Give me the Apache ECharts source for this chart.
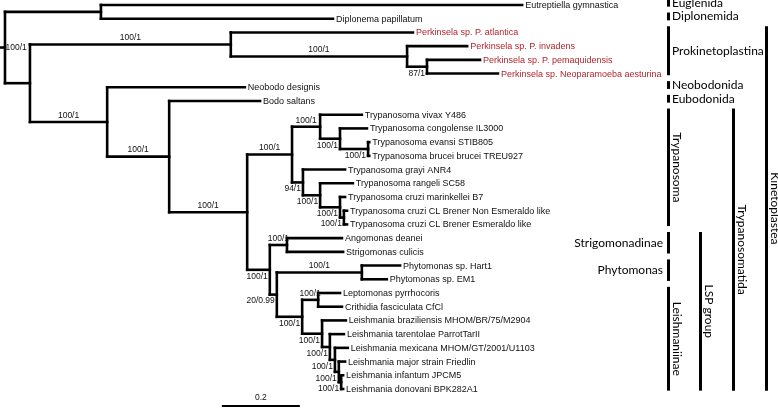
<!DOCTYPE html>
<html>
<head>
<meta charset="utf-8">
<script src="https://cdn.jsdelivr.net/npm/echarts@6/dist/echarts.min.js"></script>
<style>
  html, body { margin: 0; padding: 0; background: #fff; }
  #tree { width: 778px; height: 409px; }
</style>
</head>
<body>
<div id="tree"></div>
<script>
// tips, top to bottom
const tipNames = [
  'Eutreptiella gymnastica',
  'Diplonema papillatum',
  'Perkinsela sp. P. atlantica',
  'Perkinsela sp. P. invadens',
  'Perkinsela sp. P. pemaquidensis',
  'Perkinsela sp. Neoparamoeba aesturina',
  'Neobodo designis',
  'Bodo saltans',
  'Trypanosoma vivax Y486',
  'Trypanosoma congolense IL3000',
  'Trypanosoma evansi STIB805',
  'Trypanosoma brucei brucei TREU927',
  'Trypanosoma grayi ANR4',
  'Trypanosoma rangeli SC58',
  'Trypanosoma cruzi marinkellei B7',
  'Trypanosoma cruzi CL Brener Non Esmeraldo like',
  'Trypanosoma cruzi CL Brener Esmeraldo like',
  'Angomonas deanei',
  'Strigomonas culicis',
  'Phytomonas sp. Hart1',
  'Phytomonas sp. EM1',
  'Leptomonas pyrrhocoris',
  'Crithidia fasciculata CfCl',
  'Leishmania braziliensis MHOM/BR/75/M2904',
  'Leishmania tarentolae ParrotTarII',
  'Leishmania mexicana MHOM/GT/2001/U1103',
  'Leishmania major strain Friedlin',
  'Leishmania infantum JPCM5',
  'Leishmania donovani BPK282A1'
];
// distance of each tip from the root
const tipDepth = [1.326, 0.841, 1.046, 1.185, 1.218, 1.264, 0.615, 0.654,
  0.915, 0.928, 0.934, 0.934, 0.872, 0.892, 0.872, 0.877, 0.877,
  0.864, 0.867, 1.013, 0.979, 0.859, 0.864, 0.874, 0.869, 0.879, 0.872, 0.867, 0.867];

// internal nodes (numbers in nodeKids are tip indices)
const nodeIds = ['root', 'eug', 'kin', 'pro', 'pro2', 'pro3', 'met', 'eub', 'tri', 'tryp',
  'afr', 'afr2', 'bru', 'ame', 'ame2', 'cru', 'cru2', 'lsp', 'str', 'lph', 'phy',
  'lei', 'lc', 'le1', 'le2', 'le3', 'le4', 'le5'];
const nodeDepth = [0, 0.246, 0.064, 0.579, 1.031, 1.082, 0.262, 0.421, 0.621, 0.736,
  0.808, 0.859, 0.931, 0.764, 0.808, 0.859, 0.869, 0.679, 0.723, 0.697, 0.915,
  0.762, 0.803, 0.813, 0.833, 0.846, 0.856, 0.862];
const nodeKids = [
  ['eug', 'kin'], [0, 1], ['pro', 'met'], [2, 'pro2'], [3, 'pro3'], [4, 5], [6, 'eub'],
  [7, 'tri'], ['tryp', 'lsp'], ['afr', 'ame'], [8, 'afr2'], [9, 'bru'], [10, 11],
  [12, 'ame2'], [13, 'cru'], [14, 'cru2'], [15, 16], ['str', 'lph'], [17, 18],
  ['phy', 'lei'], [19, 20], ['lc', 'le1'], [21, 22], [23, 'le2'], [24, 'le3'],
  [25, 'le4'], [26, 'le5'], [27, 28]
];
// bootstrap / posterior support
const nodeSupport = ['', '', '100/1', '100/1', '100/1', '87/1', '100/1', '100/1', '100/1', '100/1',
  '100/1', '100/1', '100/1', '94/1', '100/1', '100/1', '100/1', '100/1', '100/1', '20/0.99', '100/1',
  '100/1', '100/1', '100/1', '100/1', '100/1', '100/1', '100/1'];

// clade brackets on the right
const cladeNames = ['Euglenida', 'Diplonemida', 'Prokinetoplastina', 'Neobodonida', 'Eubodonida',
  'Trypanosoma', 'Strigomonadinae', 'Phytomonas', 'Leishmaniinae', 'LSP group',
  'Trypanosomatida', 'Kinetoplastea'];
const cladeFirst = [0, 1, 2, 6, 7, 8, 17, 19, 21, 17, 8, 2];
const cladeLast = [0, 1, 5, 6, 7, 16, 18, 20, 28, 28, 28, 28];

const scaleBarValue = 0.2;
const scaleBarStart = 0.556;

// ---- layout ----
const stub = -0.0128;
const supportSide = {
  kin: 'parent', pro: 'above', pro2: 'above', met: 'above', eub: 'above', tri: 'above',
  tryp: 'above', afr: 'above', str: 'above', phy: 'above', lc: 'above'
};
const cladeColumn = [0, 0, 0, 0, 0, 0, 0, 0, 0, 1, 2, 3];
const columnX = [667, 699, 732, 765];
const cladeText = ['right', 'right', 'right', 'right', 'right', 'rot', 'left', 'left', 'rot', 'rot', 'rot', 'rot'];
const red = '#b3242b';
const treeFont = '"Liberation Sans", Arial, sans-serif';
const cladeFont = 'Lato, "Noto Sans", sans-serif';

// node y = middle of first and last child
const nodeY = {};
const parentOf = {};
nodeIds.forEach((id, i) => nodeKids[i].forEach(k => { parentOf[k] = id; }));
const yOf = k => {
  if (typeof k === 'number') return k;
  if (nodeY[k] == null) {
    const ks = nodeKids[nodeIds.indexOf(k)];
    nodeY[k] = (yOf(ks[0]) + yOf(ks[ks.length - 1])) / 2;
  }
  return nodeY[k];
};
const depthOf = k => typeof k === 'number' ? tipDepth[k] : nodeDepth[nodeIds.indexOf(k)];

// branch segments [x1, y1, x2, y2]
const segments = [[stub, yOf('root'), 0, yOf('root')]];
nodeIds.forEach((id, i) => {
  const ks = nodeKids[i];
  const d = nodeDepth[i];
  segments.push([d, yOf(ks[0]), d, yOf(ks[ks.length - 1])]);
  ks.forEach(k => segments.push([d, yOf(k), depthOf(k), yOf(k)]));
});

const supportData = [];
nodeIds.forEach((id, i) => {
  if (nodeSupport[i]) supportData.push([nodeDepth[i], yOf(id), depthOf(parentOf[id]), yOf(parentOf[id]), i]);
});

const chart = echarts.init(document.getElementById('tree'));
chart.setOption({
  animation: false,
  grid: { left: 0, top: 5, width: (1.5 - stub) * 390, height: 384 },
  xAxis: { type: 'value', min: stub, max: 1.5, show: false },
  yAxis: { type: 'value', min: 0, max: 28, inverse: true, show: false },
  series: [
    {
      type: 'custom',
      data: segments,
      renderItem: (params, api) => {
        const a = api.coord([api.value(0), api.value(1)]);
        const b = api.coord([api.value(2), api.value(3)]);
        return {
          type: 'line',
          shape: { x1: a[0], y1: a[1], x2: b[0], y2: b[1] },
          style: { stroke: '#000', lineWidth: 2.6, lineCap: 'square' }
        };
      }
    },
    {
      // tip labels
      type: 'custom',
      data: tipNames.map((n, i) => [tipDepth[i], i]),
      renderItem: (params, api) => {
        const p = api.coord([api.value(0), api.value(1)]);
        const name = tipNames[params.dataIndex];
        return {
          type: 'text', x: p[0] + 3, y: p[1] + 0.5,
          style: {
            text: name, fill: name.startsWith('Perkinsela') ? red : '#111',
            fontSize: 9, fontFamily: treeFont, align: 'left', verticalAlign: 'middle'
          }
        };
      }
    },
    {
      // support values
      type: 'custom',
      data: supportData,
      renderItem: (params, api) => {
        const i = api.value(4);
        const id = nodeIds[i];
        const p = api.coord([api.value(0), api.value(1)]);
        const q = api.coord([api.value(2), api.value(3)]);
        const side = supportSide[id] || 'below';
        let x, y, align;
        if (side === 'above') { x = (p[0] + q[0]) / 2; y = p[1] - 6.5; align = 'center'; }
        else if (side === 'parent') { x = q[0] + 0.5; y = q[1]; align = 'left'; }
        else { x = p[0] - 2; y = p[1] + 6.5; align = 'right'; }
        return {
          type: 'text', x: x, y: y,
          style: {
            text: nodeSupport[i], fill: '#111', fontSize: 8.5, fontFamily: treeFont,
            align: align, verticalAlign: 'middle'
          }
        };
      }
    },
    {
      // clade brackets
      type: 'custom',
      data: cladeNames.map((n, i) => [cladeFirst[i], cladeLast[i]]),
      renderItem: (params, api) => {
        const i = params.dataIndex;
        const top = api.coord([0, api.value(0) - 0.45])[1];
        const bot = api.coord([0, api.value(1) + 0.12])[1];
        const x = columnX[cladeColumn[i]];
        const mid = (top + bot) / 2;
        const mode = cladeText[i];
        const label = mode === 'rot'
          ? { type: 'text', x: x + 9.5, y: mid, rotation: -Math.PI / 2,
              style: { text: cladeNames[i], fill: '#000', fontSize: 12, fontFamily: cladeFont, align: 'center', verticalAlign: 'middle' } }
          : { type: 'text', x: mode === 'left' ? x - 4 : x + 5, y: mid,
              style: { text: cladeNames[i], fill: '#000', fontSize: 12, fontFamily: cladeFont,
                align: mode === 'left' ? 'right' : 'left', verticalAlign: 'middle' } };
        return {
          type: 'group',
          children: [
            { type: 'rect', shape: { x: x, y: top, width: 3, height: bot - top }, style: { fill: '#000' } },
            label
          ]
        };
      }
    },
    {
      // scale bar
      type: 'custom',
      data: [[scaleBarStart, scaleBarStart + scaleBarValue, tipNames.length - 1]],
      renderItem: (params, api) => {
        const a = api.coord([api.value(0), api.value(2)]);
        const b = api.coord([api.value(1), api.value(2)]);
        const y = a[1] + 17;
        return {
          type: 'group',
          children: [
            { type: 'line', shape: { x1: a[0], y1: y, x2: b[0], y2: y }, style: { stroke: '#000', lineWidth: 2 } },
            { type: 'text', x: (a[0] + b[0]) / 2, y: y - 8,
              style: { text: String(scaleBarValue), fill: '#111', fontSize: 8.5, fontFamily: treeFont, align: 'center', verticalAlign: 'middle' } }
          ]
        };
      }
    }
  ]
});
</script>
</body>
</html>
